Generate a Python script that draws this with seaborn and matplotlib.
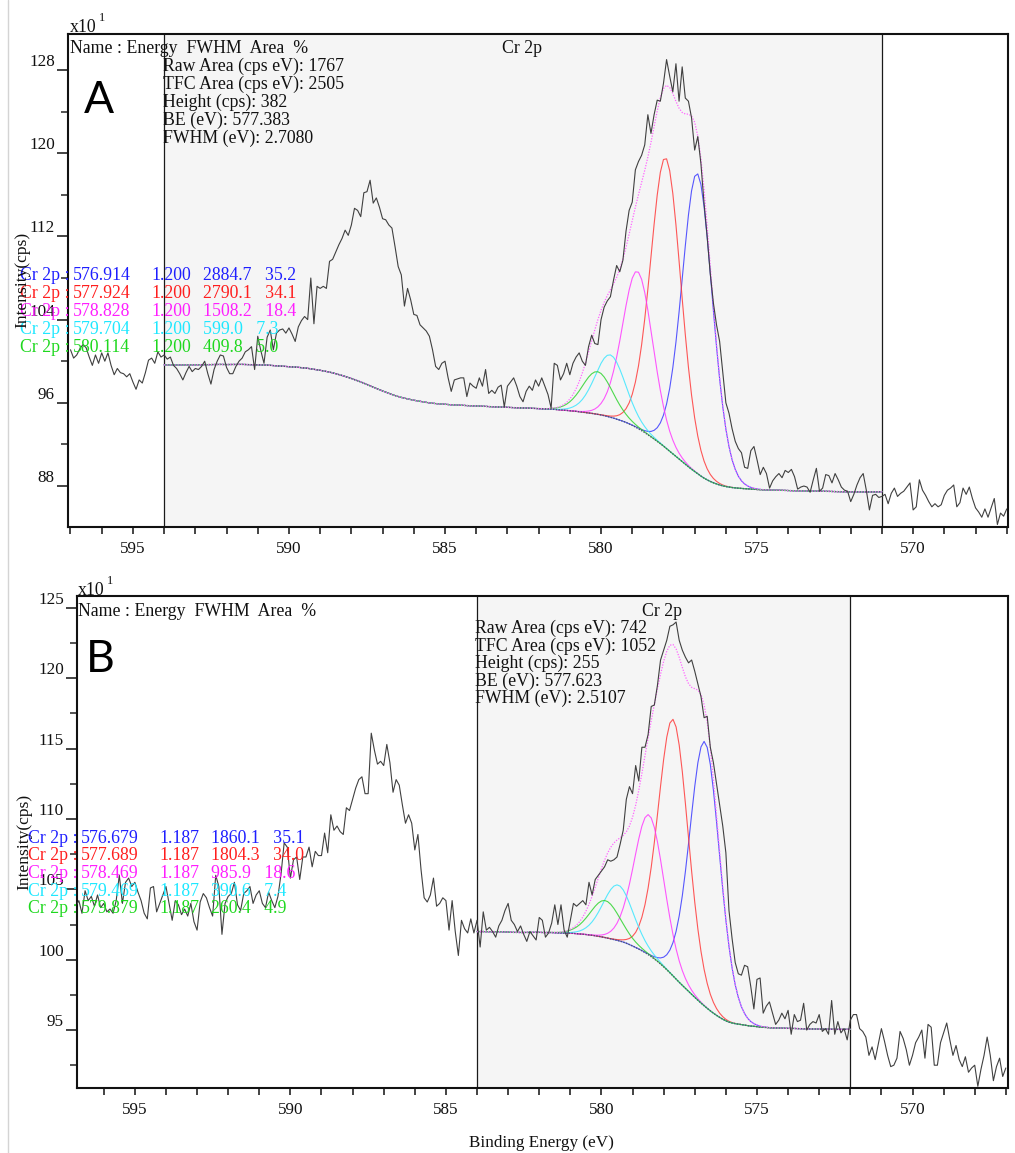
import numpy as np
import pandas as pd
import matplotlib
matplotlib.use("Agg")
import matplotlib.pyplot as plt
from matplotlib.ticker import MultipleLocator, FormatStrFormatter
from matplotlib.lines import Line2D
import seaborn as sns

# ---------------------------------------------------------------------------
# Data
# ---------------------------------------------------------------------------
# Binding-energy grid shared by both scans (eV, from high to low BE)
BE_START = 597.0
BE_STEP = 0.1

# Cr 2p raw spectra, intensity in units of 10 cps (one value per 0.1 eV)
counts_a = [
    101.1, 100.3, 100.6, 101.2, 101.6, 101.3, 100.4, 99.6, 100.6, 99.8,
    100.8, 100.0, 100.8, 99.6, 98.7, 99.3, 98.9, 98.8, 98.5, 98.8,
    98.0, 97.3, 98.2, 97.9, 98.9, 100.1, 100.3, 99.8, 100.9, 100.4,
    100.6, 100.2, 100.4, 99.6, 99.3, 98.8, 98.2, 98.9, 99.5, 99.0,
    99.3, 99.2, 99.5, 100.0, 98.8, 97.8, 99.2, 100.0, 100.6, 100.5,
    99.4, 98.8, 98.8, 99.5, 100.0, 100.3, 100.9, 101.1, 101.4, 99.2,
    102.4, 101.0, 99.8, 102.3, 103.0, 101.1, 102.7, 103.0, 103.1, 102.7,
    103.2, 102.6, 101.9, 103.3, 103.9, 104.3, 104.0, 108.0, 103.6, 107.2,
    107.0, 107.2, 107.0, 109.6, 109.8, 110.5, 111.2, 111.8, 112.6, 112.1,
    113.1, 114.7, 114.5, 113.9, 116.2, 116.3, 117.4, 115.2, 115.7, 114.8,
    113.7, 113.6, 113.1, 112.8, 111.0, 109.1, 108.3, 105.3, 107.0, 105.9,
    104.5, 104.4, 103.5, 103.2, 102.9, 102.4, 101.1, 99.5, 99.2, 99.8,
    100.0, 98.4, 97.1, 98.2, 98.3, 98.4, 98.4, 96.6, 97.9, 97.6,
    97.4, 98.4, 97.6, 99.2, 96.9, 97.2, 96.9, 97.5, 97.7, 95.6,
    97.6, 98.0, 98.4, 97.6, 96.6, 96.1, 97.1, 97.6, 97.2, 98.2,
    97.6, 98.4, 97.6, 96.8, 95.5, 99.8, 99.6, 98.2, 98.8, 99.8,
    98.7, 99.8, 100.4, 100.8, 100.0, 99.6, 101.4, 102.5, 101.7, 101.6,
    104.0, 105.2, 105.8, 106.2, 107.8, 109.2, 108.6, 109.7, 112.5, 114.5,
    115.3, 118.4, 119.2, 119.8, 120.8, 123.7, 121.9, 123.7, 125.1, 125.0,
    126.7, 129.0, 127.4, 125.9, 128.6, 125.0, 128.3, 125.3, 125.0, 123.4,
    120.3, 121.6, 119.0, 115.2, 112.0, 108.4, 105.6, 103.5, 101.9, 99.0,
    96.0, 95.0, 93.5, 92.3, 91.6, 91.2, 89.8, 89.7, 91.4, 91.8,
    90.5, 89.1, 89.8, 89.2, 87.8, 88.5, 88.9, 89.2, 88.8, 89.5,
    89.3, 89.6, 88.9, 87.7, 87.9, 88.0, 87.9, 87.4, 88.6, 89.7,
    87.5, 87.8, 89.1, 89.0, 88.3, 89.2, 88.6, 87.9, 87.6, 87.5,
    86.5, 87.2, 88.1, 88.8, 89.2, 87.6, 85.7, 87.1, 87.2, 86.9,
    87.0, 87.2, 86.3, 87.3, 87.8, 87.0, 87.3, 87.5, 87.9, 88.3,
    85.7, 86.0, 88.6, 87.6, 87.1, 86.5, 86.0, 86.3, 86.0, 86.2,
    87.1, 87.6, 87.8, 88.1, 86.0, 86.4, 87.8, 87.2, 87.9, 86.8,
    85.9, 85.5, 85.0, 85.8, 85.0, 85.9, 86.8, 84.3, 85.4, 85.1,
    85.8,
]

counts_b = [
    104.6, 103.8, 104.2, 103.3, 104.9, 104.2, 104.5, 103.8, 104.6, 103.7,
    104.0, 103.4, 103.6, 103.3, 104.2, 106.0, 104.0, 105.5, 105.8, 105.2,
    105.5, 104.8, 104.2, 103.3, 102.9, 105.1, 105.2, 103.4, 104.0, 104.6,
    105.2, 104.0, 102.8, 104.2, 103.9, 103.2, 103.6, 103.1, 104.0, 102.7,
    102.1, 104.1, 104.7, 104.4, 103.7, 103.1, 106.0, 105.2, 101.8, 104.0,
    104.5, 104.7, 105.5, 103.9, 103.5, 104.7, 104.9, 105.2, 104.0, 104.6,
    104.9, 104.0, 103.7, 104.8, 104.2, 103.7, 104.5, 106.1, 108.3, 108.0,
    105.8, 107.1, 107.3, 105.7, 107.3, 107.3, 108.0, 106.6, 107.7, 107.4,
    107.4, 109.0, 107.6, 110.3, 109.2, 109.5, 109.1, 108.9, 110.8, 110.6,
    111.4, 112.2, 112.8, 113.0, 111.8, 111.8, 116.1, 114.9, 113.9, 114.1,
    113.8, 115.3, 114.0, 111.9, 112.8, 112.4, 111.0, 109.7, 110.3, 109.7,
    107.8, 108.9, 106.4, 104.4, 104.1, 104.6, 105.8, 103.8, 104.0, 104.4,
    104.2, 102.1, 104.2, 102.0, 100.3, 102.8, 102.2, 101.9, 102.9, 101.9,
    102.8, 100.9, 103.4, 102.1, 102.3, 102.0, 101.6, 102.4, 102.8, 103.5,
    104.0, 102.8, 102.5, 102.0, 102.4, 101.8, 101.3, 102.0, 101.7, 101.4,
    103.0, 102.8, 101.6, 101.9, 102.6, 103.9, 102.5, 103.9, 102.1, 101.6,
    102.8, 104.0, 103.8, 104.0, 104.2, 103.9, 105.5, 104.6, 105.7, 106.0,
    106.3, 106.6, 107.1, 107.0, 107.1, 107.3, 108.2, 109.2, 111.4, 112.3,
    111.8, 113.8, 112.7, 115.1, 115.1, 116.0, 118.0, 118.1, 119.5, 121.3,
    122.0, 122.7, 123.7, 123.8, 124.0, 122.7, 122.0, 121.5, 121.1, 121.3,
    120.5, 119.6, 118.7, 117.2, 117.3, 115.1, 114.0, 112.5, 111.0, 109.5,
    107.6, 103.5, 101.5, 99.8, 99.0, 98.9, 99.6, 99.5, 98.1, 96.5,
    98.6, 98.7, 96.2, 96.7, 97.0, 96.2, 95.4, 95.7, 96.2, 95.8,
    96.4, 94.7, 96.1, 95.6, 95.7, 96.9, 95.0, 95.4, 95.6, 95.5,
    96.1, 94.9, 95.1, 94.7, 97.1, 94.7, 95.6, 94.8, 95.1, 94.3,
    95.7, 96.1, 96.1, 95.1, 94.9, 94.5, 93.2, 93.8, 92.9, 94.0,
    95.1, 94.2, 93.2, 92.4, 92.5, 93.0, 94.9, 94.4, 93.6, 92.5,
    93.2, 94.1, 94.5, 95.0, 93.0, 95.4, 95.2, 92.5, 92.5, 94.1,
    94.8, 95.5, 94.3, 93.2, 93.9, 92.9, 92.4, 93.1, 92.0, 92.3,
    92.5, 91.0, 92.2, 93.2, 94.5, 93.2, 91.4, 92.4, 93.0, 91.7,
    92.3,
]

# Fit region (eV) and Shirley background level at its high/low BE ends
region_a = (594.0, 571.0)
region_b = (584.0, 572.0)
bg_ends_a = (99.65, 87.45)
bg_ends_b = (102.0, 95.05)

# Fitted components: BE (eV), FWHM (eV), area, %
comp_be_a = [576.914, 577.924, 578.828, 579.704, 580.114]
comp_fwhm_a = [1.200, 1.200, 1.200, 1.200, 1.200]
comp_area_a = [2884.7, 2790.1, 1508.2, 599.0, 409.8]
comp_pct_a = [35.2, 34.1, 18.4, 7.3, 5.0]

comp_be_b = [576.679, 577.689, 578.469, 579.469, 579.879]
comp_fwhm_b = [1.187, 1.187, 1.187, 1.187, 1.187]
comp_area_b = [1860.1, 1804.3, 985.9, 390.6, 260.4]
comp_pct_b = [35.1, 34.0, 18.6, 7.4, 4.9]

# Region statistics
stats_a = ["Raw Area (cps eV): 1767", "TFC Area (cps eV): 2505",
           "Height (cps): 382", "BE (eV): 577.383", "FWHM (eV): 2.7080"]
stats_b = ["Raw Area (cps eV): 742", "TFC Area (cps eV): 1052",
           "Height (cps): 255", "BE (eV): 577.623", "FWHM (eV): 2.5107"]

# Component peak height (10 cps) per unit reported area, times FWHM
AREA_TO_HEIGHT = 0.0120
GL_MIX = 0.3   # GL(30) line shape

LINE_COLORS = ["#3b3bff", "#ff3b3b", "#ff3bff", "#3be6ff", "#2fd42f"]
TEXT_COLORS = ["#1e1eff", "#ff1e1e", "#ff1eff", "#1ee8ff", "#1ed81e"]


# ---------------------------------------------------------------------------
# Helpers
# ---------------------------------------------------------------------------
def be_grid(n):
    return np.round(BE_START - BE_STEP * np.arange(n), 3)


def gl_shape(x, center, fwhm, mix=GL_MIX):
    t = (x - center) ** 2 / fwhm ** 2
    return np.exp(-4 * np.log(2) * (1 - mix) * t) / (1 + 4 * mix * t)


def shirley(be, counts, region, ends, n_iter=60):
    hi, lo = region
    m = (be <= hi + 1e-9) & (be >= lo - 1e-9)
    e = be[m]
    s = counts[m]
    i_hi, i_lo = ends
    bg = np.full_like(s, i_lo)
    step = abs(e[1] - e[0])
    for _ in range(n_iter):
        d = (s - bg)[::-1]
        cum = np.concatenate([[0.0], np.cumsum((d[1:] + d[:-1]) / 2 * step)])[::-1]
        bg = i_lo + (i_hi - i_lo) * cum / cum[0]
    return e, bg


# ---------------------------------------------------------------------------
# Figure
# ---------------------------------------------------------------------------
sns.set_style("ticks")
plt.rcParams["font.family"] = ["Liberation Serif", "DejaVu Serif"]
plt.rcParams["axes.linewidth"] = 1.5

W, H = 1015, 1153
fig = plt.figure(figsize=(W / 100, H / 100), dpi=100)


def fx(p):
    return p / W


def fy(p):
    return 1 - p / H


TXT = 12.8


def draw_panel(ax, counts, region, bg_ends, be_c, fwhm_c, area_c, xlim, ylim,
               ymajor, yminor):
    counts = np.asarray(counts, dtype=float)
    be = be_grid(len(counts))

    ax.set_facecolor("white")
    ax.axvspan(region[0], region[1], color="#f5f5f5", zorder=0, lw=0)
    for edge in region:
        ax.axvline(edge, color="#1a1a1a", lw=0.9, zorder=1)

    e, bg = shirley(be, counts, region, bg_ends)
    total = bg.copy()
    for c, f, a, col in zip(be_c, fwhm_c, area_c, LINE_COLORS):
        comp = a * AREA_TO_HEIGHT / f * gl_shape(e, c, f)
        total += comp
        sns.lineplot(x=e, y=bg + comp, ax=ax, color=col, lw=0.8, alpha=0.85,
                     estimator=None, sort=False, zorder=2)
    sns.lineplot(x=e, y=bg, ax=ax, color="#4a5a70", lw=1.0, linestyle=(0, (1, 1)),
                 estimator=None, sort=False, zorder=2.5)
    sns.lineplot(x=e, y=total, ax=ax, color="#ff66ff", lw=0.9, linestyle=(0, (1, 1.2)),
                 estimator=None, sort=False, zorder=2.6)

    df = pd.DataFrame({"be": be, "counts": counts})
    sns.lineplot(data=df, x="be", y="counts", ax=ax, color="#404040", lw=0.8,
                 estimator=None, sort=False, zorder=3)

    ax.set_xlim(*xlim)
    ax.set_ylim(*ylim)
    ax.set_xlabel("")
    ax.set_ylabel("")
    ax.xaxis.set_major_locator(MultipleLocator(5))
    ax.xaxis.set_minor_locator(MultipleLocator(1))
    ax.yaxis.set_major_locator(MultipleLocator(ymajor))
    ax.yaxis.set_minor_locator(MultipleLocator(yminor))
    ax.yaxis.set_major_formatter(FormatStrFormatter("%d"))
    ax.xaxis.set_major_formatter(FormatStrFormatter("%d"))
    ax.tick_params(axis="x", which="both", direction="out", length=5, width=1.1,
                   labelsize=12.3, pad=5, top=False, colors="#111111")
    ax.tick_params(axis="y", which="major", direction="out", length=8, width=1.1,
                   labelsize=12.3, pad=1.5, right=False, colors="#111111")
    ax.tick_params(axis="y", which="minor", direction="out", length=5, width=1.1,
                   right=False)
    for lab in ax.get_yticklabels():
        lab.set_va("bottom")
    for sp in ax.spines.values():
        sp.set_visible(True)
        sp.set_linewidth(1.5)
        sp.set_color("#111111")


ax_a = fig.add_axes([fx(68), fy(527), fx(1008) - fx(68), fy(34) - fy(527)])
ax_b = fig.add_axes([fx(77), fy(1088), fx(1008) - fx(77), fy(596) - fy(1088)])

draw_panel(ax_a, counts_a, region_a, bg_ends_a, comp_be_a, comp_fwhm_a,
           comp_area_a, (597.08, 566.96), (84.06, 131.46), 8, 4)
draw_panel(ax_b, counts_b, region_b, bg_ends_b, comp_be_b, comp_fwhm_b,
           comp_area_b, (596.86, 566.93), (90.88, 125.85), 5, 2.5)


def panel_text(letter, lx, lby, x10_x, x10_by, name_x, name_by, cr_x,
               stats, stats_x, stats_by, stats_dy,
               be_c, fwhm_c, area_c, pct_c, tab_x, tab_by, tab_dy, ylab_x, ylab_y):
    fig.text(fx(x10_x), fy(x10_by), "x10", fontsize=TXT, va="baseline", color="#111111")
    fig.text(fx(x10_x + 29), fy(x10_by - 11), "1", fontsize=9, va="baseline",
             color="#111111")
    fig.text(fx(name_x), fy(name_by), "Name : Energy  FWHM  Area  %", fontsize=TXT,
             va="baseline", color="#111111")
    fig.text(fx(cr_x), fy(name_by), "Cr 2p", fontsize=TXT, va="baseline",
             ha="center", color="#111111")
    for i, s in enumerate(stats):
        fig.text(fx(stats_x), fy(stats_by + i * stats_dy), s, fontsize=TXT,
                 va="baseline", color="#111111")
    for i, (c, f, a, p, col) in enumerate(zip(be_c, fwhm_c, area_c, pct_c, TEXT_COLORS)):
        yb = fy(tab_by + i * tab_dy)
        fig.text(fx(tab_x), yb, "Cr 2p :", fontsize=TXT, va="baseline", color=col)
        fig.text(fx(tab_x + 53), yb, f"{c:.3f}", fontsize=TXT, va="baseline", color=col)
        fig.text(fx(tab_x + 131), yb, f"{f:.3f}", fontsize=TXT, va="baseline", color=col)
        fig.text(fx(tab_x + 183), yb, f"{a:.1f}   {p:.1f}", fontsize=TXT,
                 va="baseline", color=col)
    fig.text(fx(lx), fy(lby), letter, fontsize=32, family=["Lato", "DejaVu Sans"],
             va="baseline", color="black")
    fig.text(fx(ylab_x), fy(ylab_y), "Intensity(cps)", fontsize=12.6, rotation=90,
             ha="center", va="center", color="#111111")


panel_text("A", 84, 113, 70, 32, 70, 53, 522,
           stats_a, 163, 71, 18,
           comp_be_a, comp_fwhm_a, comp_area_a, comp_pct_a, 20, 280, 18, 22, 280)
panel_text("B", 86, 672, 78, 595, 78, 616, 662,
           stats_b, 475, 633, 17.6,
           comp_be_b, comp_fwhm_b, comp_area_b, comp_pct_b, 28, 843, 17.5, 24, 842)

fig.text(fx(541), fy(1147), "Binding Energy (eV)", fontsize=12.3, ha="center",
         va="baseline", color="#111111")

fig.add_artist(Line2D([fx(8), fx(8)], [0, 1], color="#d4d4d4", lw=1.0,
                      transform=fig.transFigure))

fig.savefig("out.png", dpi=100)
